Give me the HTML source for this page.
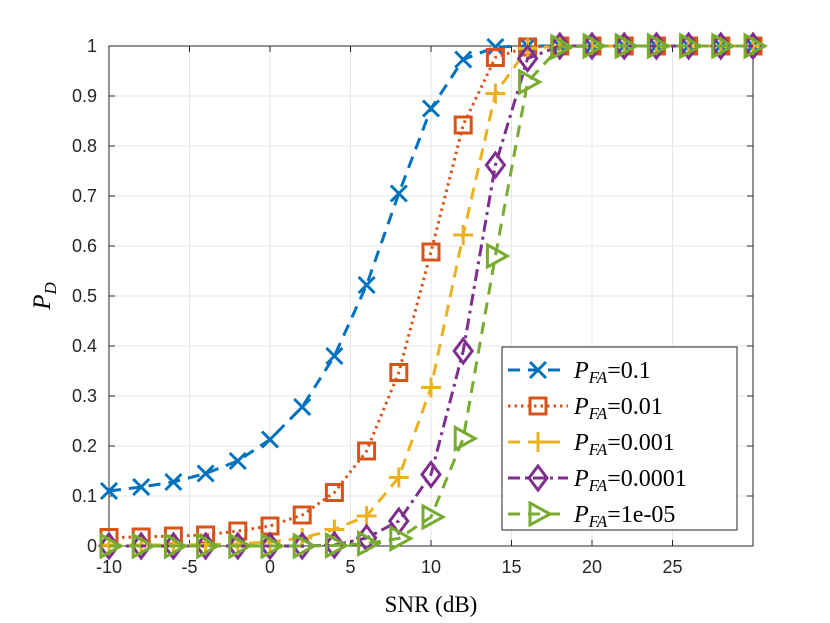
<!DOCTYPE html>
<html><head><meta charset="utf-8"><style>
body{margin:0;background:#fff;}
svg{display:block;}
text{font-family:"Liberation Sans",sans-serif;}
.serif{font-family:"Liberation Serif",serif;}
</style></head><body>
<svg id="chart" width="830" height="623" viewBox="0 0 830 623" xmlns="http://www.w3.org/2000/svg">
<g id="grid"></g>
<g id="axes"></g>
<g id="series"></g>
<g id="legend"></g>
<text class="serif" x="431" y="612" font-size="23" text-anchor="middle">SNR (dB)</text>
<text class="serif" transform="translate(50,296) rotate(-90)" font-size="25" text-anchor="middle" font-style="italic">P<tspan font-size="17" dy="6">D</tspan></text>
</svg>
<script>
const snr=[-10,-8,-6,-4,-2,0,2,4,6,8,10,12,14,16,18,20,22,24,26,28,30];
const pfa01=[0.11,0.118,0.128,0.145,0.17,0.213,0.278,0.38,0.522,0.705,0.875,0.973,0.998,1,1,1,1,1,1,1,1];
const pfa001=[0.017,0.018,0.02,0.022,0.03,0.04,0.062,0.107,0.19,0.347,0.588,0.842,0.977,0.998,1,1,1,1,1,1,1];
const pfa0001=[0.002,0.002,0.002,0.003,0.004,0.008,0.016,0.033,0.06,0.137,0.317,0.622,0.905,0.995,1,1,1,1,1,1,1];
const pfa00001=[0,0,0,0,0,0,0,0.002,0.016,0.05,0.143,0.39,0.762,0.975,1,1,1,1,1,1,1];
const pfa1e5=[0,0,0,0,0,0,0,0.001,0.005,0.015,0.058,0.215,0.58,0.928,0.998,1,1,1,1,1,1];
const xTicks=[-10,-5,0,5,10,15,20,25,30];
const xTickLabels=["-10","-5","0","5","10","15","20","25",""];
const yTicks=[0,0.1,0.2,0.3,0.4,0.5,0.6,0.7,0.8,0.9,1];
const yTickLabels=["0","0.1","0.2","0.3","0.4","0.5","0.6","0.7","0.8","0.9","1"];
const seriesNames=["0.1","0.01","0.001","0.0001","1e-05"];

const L=109,R=753,T=46,B=546;
const sx=v=>L+(v+10)/40*(R-L);
const sy=v=>B-v*(B-T);
const NS="http://www.w3.org/2000/svg";
function mk(tag,attrs,parent){const e=document.createElementNS(NS,tag);for(const k in attrs)e.setAttribute(k,attrs[k]);parent.appendChild(e);return e;}
const grid=document.getElementById('grid'),axes=document.getElementById('axes'),ser=document.getElementById('series'),leg=document.getElementById('legend');
mk('rect',{x:L,y:T,width:R-L,height:B-T,fill:'#fff'},grid);
xTicks.forEach((t,i)=>{
  const g=mk('line',{x1:sx(t),x2:sx(t),y1:T,y2:B,stroke:'#e6e6e6','stroke-width':1},grid);
  
  
  mk('line',{x1:sx(t),x2:sx(t),y1:B,y2:B-6,stroke:'#262626','stroke-width':1},axes);
  mk('line',{x1:sx(t),x2:sx(t),y1:T,y2:T+6,stroke:'#262626','stroke-width':1},axes);
  const tx=mk('text',{x:sx(t),y:B+27,'font-size':18,'text-anchor':'middle',fill:'#262626'},axes);
  
  
  tx.textContent=xTickLabels[i];
});
yTicks.forEach((t,i)=>{
  const g=mk('line',{x1:L,x2:R,y1:sy(t),y2:sy(t),stroke:'#e6e6e6','stroke-width':1},grid);
  
  
  mk('line',{x1:L,x2:L+6,y1:sy(t),y2:sy(t),stroke:'#262626','stroke-width':1},axes);
  mk('line',{x1:R,x2:R-6,y1:sy(t),y2:sy(t),stroke:'#262626','stroke-width':1},axes);
  const tx=mk('text',{x:L-12,y:sy(t)+6,'font-size':18,'text-anchor':'end',fill:'#262626'},axes);
  
  
  tx.textContent=yTickLabels[i];
});
mk('rect',{x:L,y:T,width:R-L,height:B-T,fill:'none',stroke:'#262626','stroke-width':1},axes);

const styles=[
 {c:'#0072BD',dash:'12 8',m:'x'},
 {c:'#D95319',dash:'2.5 4',m:'s'},
 {c:'#EDB120',dash:'12 8',m:'+'},
 {c:'#7E2F8E',dash:'12 5 3 5',m:'d'},
 {c:'#77AC30',dash:'12 8',m:'t'}];
function marker(type,x,y,c,parent){
  const a={fill:'none',stroke:c,'stroke-width':3};
  let e;
  if(type==='x'){e=mk('path',Object.assign({d:`M${x-8} ${y-8}L${x+8} ${y+8}M${x-8} ${y+8}L${x+8} ${y-8}`},a),parent);}
  else if(type==='+'){e=mk('path',Object.assign({d:`M${x-10} ${y}L${x+10} ${y}M${x} ${y-10}L${x} ${y+10}`},a),parent);}
  else if(type==='s'){e=mk('rect',Object.assign({x:x-8,y:y-8,width:16,height:16},a),parent);}
  else if(type==='d'){e=mk('path',Object.assign({d:`M${x} ${y-12}L${x+9} ${y}L${x} ${y+12}L${x-9} ${y}Z`},a),parent);}
  else {e=mk('path',Object.assign({d:`M${x-8} ${y-11}L${x+12} ${y}L${x-8} ${y+11}Z`},a),parent);}
  return e;
}
const all=[pfa01,pfa001,pfa0001,pfa00001,pfa1e5];
all.forEach((vals,si)=>{
  const st=styles[si];
  const g=mk('g',{},ser);
  
  
  const d=vals.map((v,i)=>(i?'L':'M')+sx(snr[i]).toFixed(1)+' '+sy(v).toFixed(1)).join('');
  mk('path',{d:d,fill:'none',stroke:st.c,'stroke-width':3,'stroke-dasharray':st.dash},g);
  vals.forEach((v,i)=>{
    const m=marker(st.m,sx(snr[i]),sy(v),st.c,g);
    
    
  });
});
// legend
const lb=mk('rect',{x:502,y:347,width:235,height:183,fill:'#fff',stroke:'#262626','stroke-width':1},leg);


const ly=[370,406,442,478,514];
styles.forEach((st,i)=>{
  const g=mk('g',{},leg);
  
  
  mk('line',{x1:508,x2:568,y1:ly[i],y2:ly[i],stroke:st.c,'stroke-width':3,'stroke-dasharray':st.dash},g);
  marker(st.m,538,ly[i],st.c,g);
  const t=mk('text',{x:574,y:ly[i]+8,'font-size':24,fill:'#000','class':'serif'},g);
  t.innerHTML='<tspan font-style="italic">P</tspan><tspan font-style="italic" font-size="17" dy="5">FA</tspan><tspan dy="-5">='+seriesNames[i]+'</tspan>';
});
</script>
</body></html>
